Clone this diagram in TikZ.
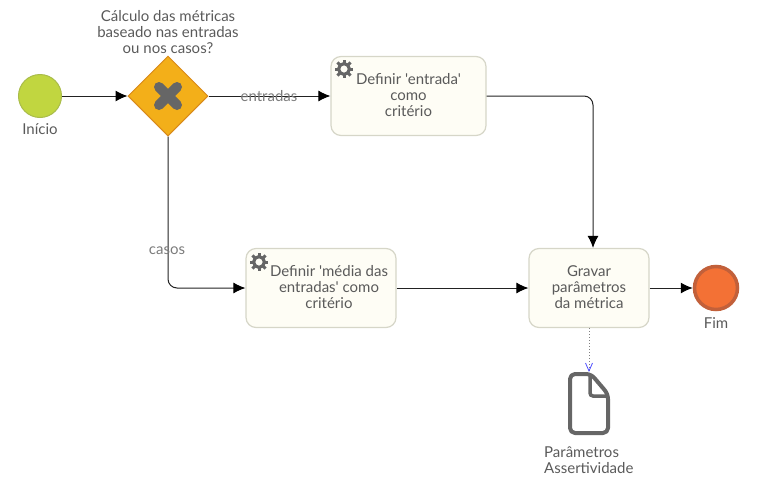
\documentclass[tikz,border=0pt]{standalone}
\usepackage{fontspec}
\newfontfamily\lblfont{Lato}
\usetikzlibrary{shapes.geometric,arrows.meta}
\definecolor{txt}{HTML}{5A5A5A}
\definecolor{ink}{HTML}{222222}
\definecolor{iconc}{HTML}{666666}
\definecolor{taskfill}{HTML}{FEFDF5}
\definecolor{taskline}{HTML}{D6D6C8}
\definecolor{startf}{HTML}{C1D640}
\definecolor{startb}{HTML}{A9BC4A}
\definecolor{gatef}{HTML}{F3AF19}
\definecolor{gateb}{HTML}{D8891A}
\definecolor{endf}{HTML}{F37135}
\definecolor{endb}{HTML}{C2603A}
\tikzset{
  x=1pt,y=-1pt,
  lbl/.style={text=txt,font=\lblfont\fontsize{15}{16.3}\selectfont,align=center,inner sep=0pt},
  taskbox/.style={draw=taskline,fill=taskfill,line width=1.2pt,rounded corners=10pt,inner sep=0pt},
  flow/.style={draw=ink,line width=1pt,-{Latex[length=12pt,width=11pt,black]},rounded corners=9pt},
  pics/gear/.style={code={
    \draw[iconc,line width=3.2pt] (0,0) circle[radius=5.4];
    \foreach \a in {0,45,...,315}{\draw[iconc,line width=3pt,rotate=\a] (5.5,0) -- (9.2,0);}
  }}
}
\begin{document}
\begin{tikzpicture}
\useasboundingbox (0,0) rectangle (758,493);
\node[circle,draw=startb,fill=startf,line width=1pt,minimum size=43pt,inner sep=0pt] (start) at (40,96) {};
\node[diamond,aspect=1,draw=gateb,fill=gatef,line width=1pt,minimum width=80pt,minimum height=80pt,inner sep=0pt] (gate) at (168,96) {};
\draw[iconc,line width=10pt,line cap=round] (159,87) -- (177,105) (177,87) -- (159,105);
\node[taskbox,minimum width=155pt,minimum height=79pt] (t1) at (408.5,96) {};
\node[lbl] at (408.5,95) {Definir 'entrada'\\como\\critério};
\node[taskbox,minimum width=150pt,minimum height=79pt] (t2) at (321,288) {};
\node[lbl] at (329,287) {Definir 'média das\\entradas' como\\critério};
\node[taskbox,minimum width=120pt,minimum height=79pt] (t3) at (589,288) {};
\node[lbl] at (589,287) {Gravar\\parâmetros\\da métrica};
\pic at (344,69) {gear};
\pic at (259,262) {gear};
\node[circle,draw=endb,fill=endf,line width=3.5pt,minimum size=43pt,inner sep=0pt] (stop) at (716,288) {};
\node[minimum width=42pt,minimum height=63pt,inner sep=0pt] (doc) at (589,403.5) {};
\draw[iconc,line width=4pt,line join=round,rounded corners=5pt] (570,374) -- (591,374) -- (608,394) -- (608,433) -- (570,433) -- cycle;
\draw[iconc,line width=3.5pt,rounded corners=3pt] (590,374) -- (590,396) -- (608,396);
\node[lbl] at (168,32) {Cálculo das métricas\\baseado nas entradas\\ou nos casos?};
\node[lbl] at (40,129) {Início};
\node[lbl] at (716,323) {Fim};
\node[lbl,align=left,anchor=west] at (544,460) {Parâmetros\\Assertividade};
\coordinate (t3top) at ([xshift=4pt]t3.north);
\draw[flow] (start) -- (gate);
\draw[flow] (gate) -- (t1);
\draw[flow] (gate) |- (t2);
\draw[flow] (t2) -- (t3);
\draw[flow] (t1) -| (t3top);
\draw[flow] (t3) -- (stop);
\draw[draw=gray,line width=1pt,dotted] (t3) -- (doc.north);
\draw[draw=blue!70!white,line width=0.8pt] (585.5,363) -- (589,371) -- (592.5,363);
\node[lbl,text=txt!80!white] at (269,96) {entradas};
\node[lbl,text=txt!80!white] at (167,251) {casos};
\end{tikzpicture}
\end{document}
